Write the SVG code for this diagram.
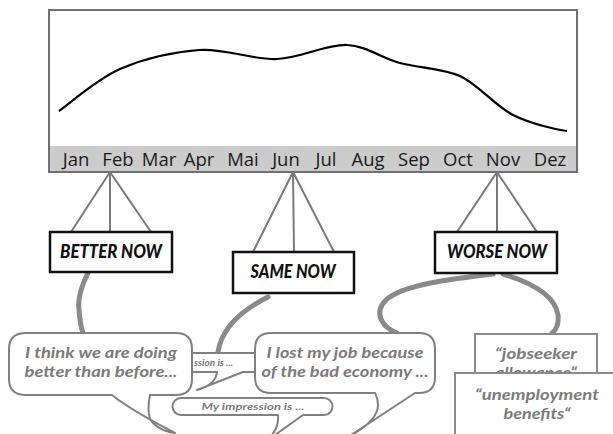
<svg xmlns="http://www.w3.org/2000/svg" width="613" height="434" viewBox="0 0 613 434">
<style>
.month{font-family:"Open Sans","Liberation Sans",sans-serif;font-size:18.5px;fill:#1a1a1a;text-anchor:middle}
.hang{stroke:#7a7a7a;stroke-width:2;fill:none}
.label rect{fill:#fff;stroke:#111;stroke-width:2.5}
.label text{font-family:Lato,"Open Sans",sans-serif;font-weight:900;font-style:italic;font-size:18px;fill:#111;text-anchor:middle}
.brush{stroke:#8a8a8a;fill:none;stroke-linecap:round}
.bub{fill:#fff;stroke:#808080;stroke-width:2;stroke-linejoin:round}
.bt{font-family:Lato,"Open Sans",sans-serif;font-weight:700;font-style:italic;fill:#7a7a7a;text-anchor:middle}
.box{fill:#fff;stroke:#8a8a8a;stroke-width:2}
</style>
<rect width="613" height="434" fill="#fff"/>
<g id="chart">
<rect x="49" y="10" width="528" height="162" fill="#fff" stroke="#707070" stroke-width="2"/>
<rect x="50" y="146" width="526" height="25" fill="#cccccc"/>
<path d="M59,111 C69,104 97,79 120,69 C143,59 173,52 199,50 C225,48 252,60 277,59 C302,58 326,44 347,45 C367,46 381,58 400,63 C419,68 441,68 460,76 C479,85 495,106 513,115 C531,124 558,130 567,131" fill="none" stroke="#000" stroke-width="2.2"/>
<text class="month" x="76" y="166">Jan</text>
<text class="month" x="118" y="166">Feb</text>
<text class="month" x="159" y="166">Mar</text>
<text class="month" x="199" y="166">Apr</text>
<text class="month" x="243" y="166">Mai</text>
<text class="month" x="286" y="166">Jun</text>
<text class="month" x="326" y="166">Jul</text>
<text class="month" x="368" y="166">Aug</text>
<text class="month" x="414" y="166">Sep</text>
<text class="month" x="458" y="166">Oct</text>
<text class="month" x="503" y="166">Nov</text>
<text class="month" x="550" y="166">Dez</text>
</g>
<g id="connectors">
<path class="hang" d="M110,172 L71,232 M110,172 L110,232 M110,172 L151,232"/>
<path class="hang" d="M293,172 L253,252 M293,172 L294,252 M293,172 L334,252"/>
<path class="hang" d="M497,172 L457,232 M497,172 L497,232 M497,172 L537,232"/>
<path class="brush" stroke-width="5" d="M88,273 Q77,295 79,310 Q80,324 83,333"/>
<path class="brush" stroke-width="5" d="M268,297 C246,308 222,326 218,352"/>
<path class="brush" stroke-width="5" d="M493,274 C450,279 402,285 386,300 C372,314 384,328 397,333"/>
<path class="brush" stroke-width="5" d="M503,274 C530,282 555,295 558,315 C559,325 556,330 552,333"/>
</g>
<g id="better-now" class="label">
<rect x="50" y="232" width="122" height="40"/>
<text x="111" y="258" textLength="102" lengthAdjust="spacingAndGlyphs">BETTER NOW</text>
</g>
<g id="same-now" class="label">
<rect x="233" y="252" width="121" height="41"/>
<text x="293" y="278" textLength="85" lengthAdjust="spacingAndGlyphs">SAME NOW</text>
</g>
<g id="worse-now" class="label">
<rect x="435" y="232" width="122" height="41"/>
<text x="497" y="258" textLength="100" lengthAdjust="spacingAndGlyphs">WORSE NOW</text>
</g>
<g id="bubble-impression-back">
<path class="bub" d="M185,353 H262 V372 H243 L197,390 C208,387 216,382 217,372 H185 Z"/>
<text class="bt" x="194" y="366" font-size="10" style="text-anchor:start">ssion is ...</text>
</g>
<g id="bubble-better">
<path class="bub" d="M26,333 H176 Q192,333 192,349 V379 Q192,395 176,395 H150 C148,405 147,417 153,423 C159,429 167,432 175,433 C150,420 128,408 112,395 H26 Q9,395 9,379 V349 Q9,333 26,333 Z"/>
<text class="bt" x="101" y="358" font-size="15.8" textLength="152" lengthAdjust="spacingAndGlyphs">I think we are doing</text>
<text class="bt" x="101" y="377" font-size="15.8" textLength="153" lengthAdjust="spacingAndGlyphs">better than before...</text>
</g>
<g id="bubble-lost">
<path class="bub" d="M271,333 H419 Q435,333 435,349 V377 Q435,393 419,393 H415 L348,437 C365,428 378,418 378,405 C378,398 376,395 375,393 H271 Q255,393 255,377 V349 Q255,333 271,333 Z"/>
<text class="bt" x="345" y="358" font-size="15.8" textLength="157" lengthAdjust="spacingAndGlyphs">I lost my job because</text>
<text class="bt" x="345" y="377" font-size="15.8" textLength="167" lengthAdjust="spacingAndGlyphs">of the bad economy ...</text>
</g>
<g id="bubble-impression">
<path class="bub" d="M181,398 H324 A8.5,8.5 0 0 1 324,415 H303 L268,440 C275,432 279,425 278,415 H181 A8.5,8.5 0 0 1 181,398 Z"/>
<text class="bt" x="253" y="410" font-size="10" textLength="103" lengthAdjust="spacingAndGlyphs">My impression is ...</text>
</g>
<g id="jobseeker">
<rect class="box" x="475" y="334" width="122" height="60"/>
<text class="bt" x="536" y="359" font-size="15.8" textLength="82" lengthAdjust="spacingAndGlyphs">“jobseeker</text>
<text class="bt" x="536" y="378" font-size="15.8" textLength="82" lengthAdjust="spacingAndGlyphs">allowance“</text>
</g>
<g id="unemployment">
<rect class="box" x="455" y="373" width="170" height="70"/>
<text class="bt" x="537" y="400" font-size="15.8" textLength="124" lengthAdjust="spacingAndGlyphs">“unemployment</text>
<text class="bt" x="537" y="419" font-size="15.8" textLength="67" lengthAdjust="spacingAndGlyphs">benefits“</text>
</g>
</svg>
